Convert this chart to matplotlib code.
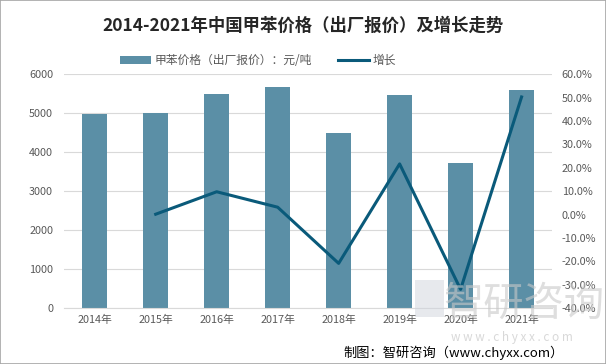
import numpy as np
import matplotlib
matplotlib.use("Agg")
import matplotlib.pyplot as plt
from matplotlib.patches import Rectangle

plt.rcParams['font.family'] = ['Noto Sans CJK SC', 'DejaVu Sans']

YEARS = ["2014年", "2015年", "2016年", "2017年", "2018年", "2019年", "2020年", "2021年"]
PRICE = [4990, 5000, 5490, 5667, 4487, 5460, 3718, 5590]
GROWTH = [None, 0.2, 9.8, 3.2, -20.8, 21.7, -31.9, 50.3]

BAR_C = "#5B8FA6"
LINE_C = "#0A5A7A"
TXT_C = "#595959"

fig = plt.figure(figsize=(6.06, 3.64), dpi=100)
ax = fig.add_axes([0.106, 0.153, 0.805, 0.643])
ax2 = ax.twinx()

x = np.arange(len(YEARS))
bars = ax.bar(x, PRICE, width=0.41, color=BAR_C, zorder=2,
              label="甲苯价格（出厂报价）：元/吨")
gx = [i for i, g in enumerate(GROWTH) if g is not None]
gy = [g for g in GROWTH if g is not None]
line, = ax2.plot(gx, gy, color=LINE_C, lw=2.2, zorder=3, label="增长")

ax.set_xlim(-0.5, len(YEARS) - 0.5)
ax.set_ylim(0, 6000)
ax.set_yticks(range(0, 6001, 1000))
ax2.set_ylim(-40, 60)
ax2.set_yticks(range(-40, 61, 10))
ax2.set_yticklabels([f"{v:.1f}%" for v in range(-40, 61, 10)])
ax.set_xticks(x)
ax.set_xticklabels(YEARS)

ax.grid(axis="y", color="#D9D9D9", lw=0.8, zorder=0)
for a in (ax, ax2):
    for s in a.spines.values():
        s.set_visible(False)
    a.tick_params(length=0, labelsize=7.8, colors=TXT_C)
ax.spines["bottom"].set_visible(True)
ax.spines["bottom"].set_color("#D9D9D9")
ax.tick_params(axis="y", pad=8)
ax2.tick_params(axis="y", pad=7)
ax.tick_params(axis="x", pad=5)

fig.text(0.5, 0.93, "2014-2021年中国甲苯价格（出厂报价）及增长走势",
         ha="center", va="center", fontsize=12.5, fontweight="bold", color="#262626")
fig.legend(handles=[bars, line], loc="center", bbox_to_anchor=(0.426, 0.833),
           ncol=2, frameon=False, fontsize=8.5, handlelength=2.6,
           columnspacing=2.2, handletextpad=0.3, labelcolor=TXT_C, handleheight=0.6)

# watermark
fig.text(0.865, 0.165, "智研咨询", ha="center", va="center", fontsize=29,
         color="#C8C8C8", alpha=0.6, zorder=10)
fig.text(0.845, 0.072, "w w w . c h y x x . c o m", ha="center", va="center",
         fontsize=8.5, color="#C8C8C8", alpha=0.7, zorder=10)
fig.patches.append(Rectangle((0.685, 0.13), 0.048, 0.1, transform=fig.transFigure,
                             facecolor="#D0D5DD", alpha=0.5, zorder=10))

fig.text(0.93, 0.032, "制图：智研咨询（www.chyxx.com）", ha="right", va="center",
         fontsize=9.5, color="#000000")

fig.patches.append(Rectangle((0, 0), 1, 1, transform=fig.transFigure, fill=False,
                             edgecolor="#A6A6A6", lw=1.2))

fig.savefig("out.png", dpi=100)
